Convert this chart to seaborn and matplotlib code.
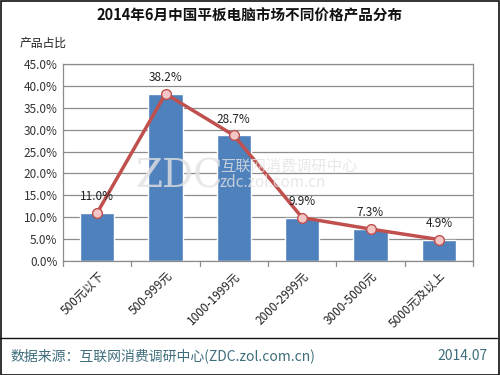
import matplotlib
matplotlib.use("Agg")
import matplotlib.pyplot as plt
import seaborn as sns
import pandas as pd

categories = ["500元以下", "500-999元", "1000-1999元", "2000-2999元", "3000-5000元", "5000元及以上"]
shares = [11.0, 38.2, 28.7, 9.9, 7.3, 4.9]
yticks = [0, 5, 10, 15, 20, 25, 30, 35, 40, 45]

sns.set_theme(style="white")
plt.rcParams['font.family'] = ['Noto Sans CJK SC', 'DejaVu Sans']

df = pd.DataFrame({"price": categories, "share": shares})

fig = plt.figure(figsize=(5, 3.75), dpi=100)
ax = fig.add_axes([63/500, 1 - 261/375, 410/500, 197/375])

sns.barplot(data=df, x="price", y="share", color="#4F81BD", width=0.5,
            saturation=1, ax=ax, zorder=2)
ax.plot(range(len(shares)), shares, color="#C0504D", lw=2.5, marker="o",
        markersize=7, markerfacecolor="#F4C7C6", markeredgecolor="#C0504D",
        markeredgewidth=1, zorder=4)
for i, v in enumerate(shares):
    ax.annotate(f"{v:.1f}%", (i, v), xytext=(0, 7), textcoords="offset points",
                ha="center", va="bottom", fontsize=8.5, color="#222222", zorder=5)

ax.set_xlim(-0.5, len(categories) - 0.5)
ax.set_ylim(0, 45)
ax.set_yticks(yticks)
ax.set_yticklabels([f"{t:.1f}%" for t in yticks], fontsize=8.5, color="#333333")
ax.set_xticks(range(len(categories)))
ax.set_xticklabels(categories, rotation=45, ha="right", rotation_mode="anchor",
                   fontsize=8.5, color="#222222")
ax.tick_params(axis="x", pad=6, length=0)
ax.tick_params(axis="y", length=0, pad=4)
ax.yaxis.grid(True, color="#8C8C8C", lw=0.9, zorder=0)
ax.set_axisbelow(True)
for s in ax.spines.values():
    s.set_color("#8C8C8C")
    s.set_linewidth(0.9)
ax.set_xlabel("")
ax.set_ylabel("")

# small tick marks between categories on the x axis
for k in range(len(categories) + 1):
    ax.plot([k - 0.5, k - 0.5], [0, -1.2], color="#8C8C8C", lw=0.9,
            clip_on=False, zorder=1)

# watermark
fig.text(135/500, 1 - 188/375, "ZDC", fontsize=28, color="#E2E2E2", alpha=0.8,
         family="DejaVu Serif", va="baseline", zorder=3)
fig.text(220/500, 1 - 171/375, "互联网消费调研中心", fontsize=11, color="#E2E2E2",
         alpha=0.8, va="baseline", zorder=3)
fig.text(220/500, 1 - 187/375, "zdc.zol.com.cn", fontsize=11, color="#E2E2E2",
         alpha=0.8, va="baseline", zorder=3)

fig.text(0.5, 1 - 15/375, "2014年6月中国平板电脑市场不同价格产品分布", ha="center",
         va="center", fontsize=10.5, fontweight="bold", color="#111111")
fig.text(20/500, 1 - 43/375, "产品占比", ha="left", va="center", fontsize=8.5,
         color="#222222")

fig.add_artist(plt.Line2D([0, 497/500], [1 - 338/375, 1 - 338/375],
                          color="#111111", lw=1))
fig.text(10/500, 1 - 356/375, "数据来源：互联网消费调研中心(ZDC.zol.com.cn)",
         ha="left", va="center", fontsize=10, color="#3E6D7C")
fig.text(488/500, 1 - 356/375, "2014.07", ha="right", va="center",
         fontsize=10, color="#3E6D7C")

fig.add_artist(plt.Rectangle((0.001, 0.001), 0.997, 0.997, fill=False,
                             edgecolor="#111111", lw=1.2, transform=fig.transFigure))

fig.savefig("out.png", dpi=100)
